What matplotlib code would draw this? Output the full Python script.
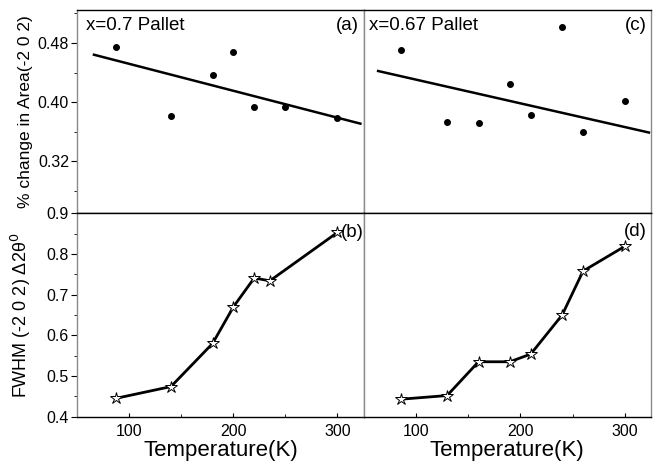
import matplotlib.pyplot as plt
from matplotlib.ticker import MultipleLocator

plt.rcParams['font.family'] = ['Liberation Sans', 'DejaVu Sans']

# panel (a): x=0.7 pallet, % change in area
temp_a = [87, 140, 180, 200, 220, 250, 300]
area_a = [0.475, 0.381, 0.436, 0.467, 0.393, 0.393, 0.378]
fit_a_t = [66, 322]
fit_a_y = [0.464, 0.371]

# panel (b): x=0.7 pallet, FWHM
temp_b = [87, 140, 180, 200, 220, 235, 300]
fwhm_b = [0.445, 0.474, 0.580, 0.670, 0.741, 0.734, 0.853]

# panel (c): x=0.67 pallet, % change in area
temp_c = [86, 130, 160, 190, 210, 240, 260, 300]
area_c = [0.471, 0.373, 0.372, 0.425, 0.382, 0.502, 0.360, 0.401]
fit_c_t = [64, 323]
fit_c_y = [0.442, 0.359]

# panel (d): x=0.67 pallet, FWHM
temp_d = [86, 130, 160, 190, 210, 240, 260, 300]
fwhm_d = [0.443, 0.452, 0.535, 0.535, 0.554, 0.650, 0.758, 0.819]

fig = plt.figure(figsize=(6.59, 4.62), dpi=100)

L, M, R = 0.1173, 0.5516, 0.9879
B, C, T = 0.0981, 0.5383, 0.9794

ax_a = fig.add_axes([L, C, M - L, T - C])
ax_c = fig.add_axes([M, C, R - M, T - C])
ax_b = fig.add_axes([L, B, M - L, C - B])
ax_d = fig.add_axes([M, B, R - M, C - B])

gris = '#8a8a8a'

for ax in (ax_a, ax_c, ax_b, ax_d):
    ax.set_xlim(50, 325)
    for s in ('left', 'right'):
        ax.spines[s].set_color(gris)
    for s in ('top', 'bottom'):
        ax.spines[s].set_color('black')
    for s in ax.spines.values():
        s.set_linewidth(1.0)
    ax.xaxis.set_major_locator(MultipleLocator(100))
    ax.xaxis.set_minor_locator(MultipleLocator(50))
    ax.tick_params(axis='x', which='both', direction='in', top=False,
                   labelsize=11.5, pad=5)
    ax.tick_params(axis='x', which='major', length=3)
    ax.tick_params(axis='x', which='minor', length=2)
    ax.tick_params(axis='y', which='both', direction='out', right=False,
                   labelsize=11.5, pad=2)
    ax.tick_params(axis='y', which='major', length=4)
    ax.tick_params(axis='y', which='minor', length=2)

for ax in (ax_a, ax_c):
    ax.set_ylim(0.25, 0.525)
    ax.yaxis.set_major_locator(MultipleLocator(0.08))
    ax.yaxis.set_minor_locator(MultipleLocator(0.04))
    ax.tick_params(axis='x', which='both', bottom=False, labelbottom=False)

for ax in (ax_b, ax_d):
    ax.set_ylim(0.4, 0.9)
    ax.yaxis.set_major_locator(MultipleLocator(0.1))
    ax.yaxis.set_minor_locator(MultipleLocator(0.05))
    ax.set_xlabel('Temperature(K)', fontsize=16, labelpad=1)

for ax in (ax_c, ax_d):
    ax.tick_params(axis='y', which='both', left=False, labelleft=False)

ax_a.yaxis.set_major_formatter(plt.FuncFormatter(lambda v, p: f'{v:.2f}'))
ax_b.yaxis.set_major_formatter(plt.FuncFormatter(lambda v, p: f'{v:.1f}'))

# puntos y ajuste lineal
ax_a.plot(temp_a, area_a, 'o', color='black', ms=4)
ax_a.plot(fit_a_t, fit_a_y, '-', color='black', lw=1.8)
ax_c.plot(temp_c, area_c, 'o', color='black', ms=4)
ax_c.plot(fit_c_t, fit_c_y, '-', color='black', lw=1.8)

ax_b.plot(temp_b, fwhm_b, '-*', color='black', lw=2, ms=9,
          mfc='white', mec='black', mew=0.7)
ax_d.plot(temp_d, fwhm_d, '-*', color='black', lw=2, ms=9,
          mfc='white', mec='black', mew=0.7)

ax_a.text(0.03, 0.92, 'x=0.7 Pallet', transform=ax_a.transAxes, fontsize=13.5,
          va='center', ha='left')
ax_a.text(0.985, 0.92, '(a)', transform=ax_a.transAxes, fontsize=13.5,
          va='center', ha='right')
ax_c.text(0.02, 0.92, 'x=0.67 Pallet', transform=ax_c.transAxes, fontsize=13.5,
          va='center', ha='left')
ax_c.text(0.985, 0.92, '(c)', transform=ax_c.transAxes, fontsize=13.5,
          va='center', ha='right')
ax_b.text(1.0, 0.905, '(b)', transform=ax_b.transAxes, fontsize=13.5,
          va='center', ha='right')
ax_d.text(0.985, 0.91, '(d)', transform=ax_d.transAxes, fontsize=13.5,
          va='center', ha='right')

ax_a.set_ylabel('% change in Area(-2 0 2)', fontsize=12.5)
ax_a.yaxis.set_label_coords(-0.155, 0.5)
ax_b.set_ylabel('FWHM (-2 0 2) Δ2θ$^0$', fontsize=13)
ax_b.yaxis.set_label_coords(-0.155, 0.5)

fig.savefig('out.png', dpi=100)
